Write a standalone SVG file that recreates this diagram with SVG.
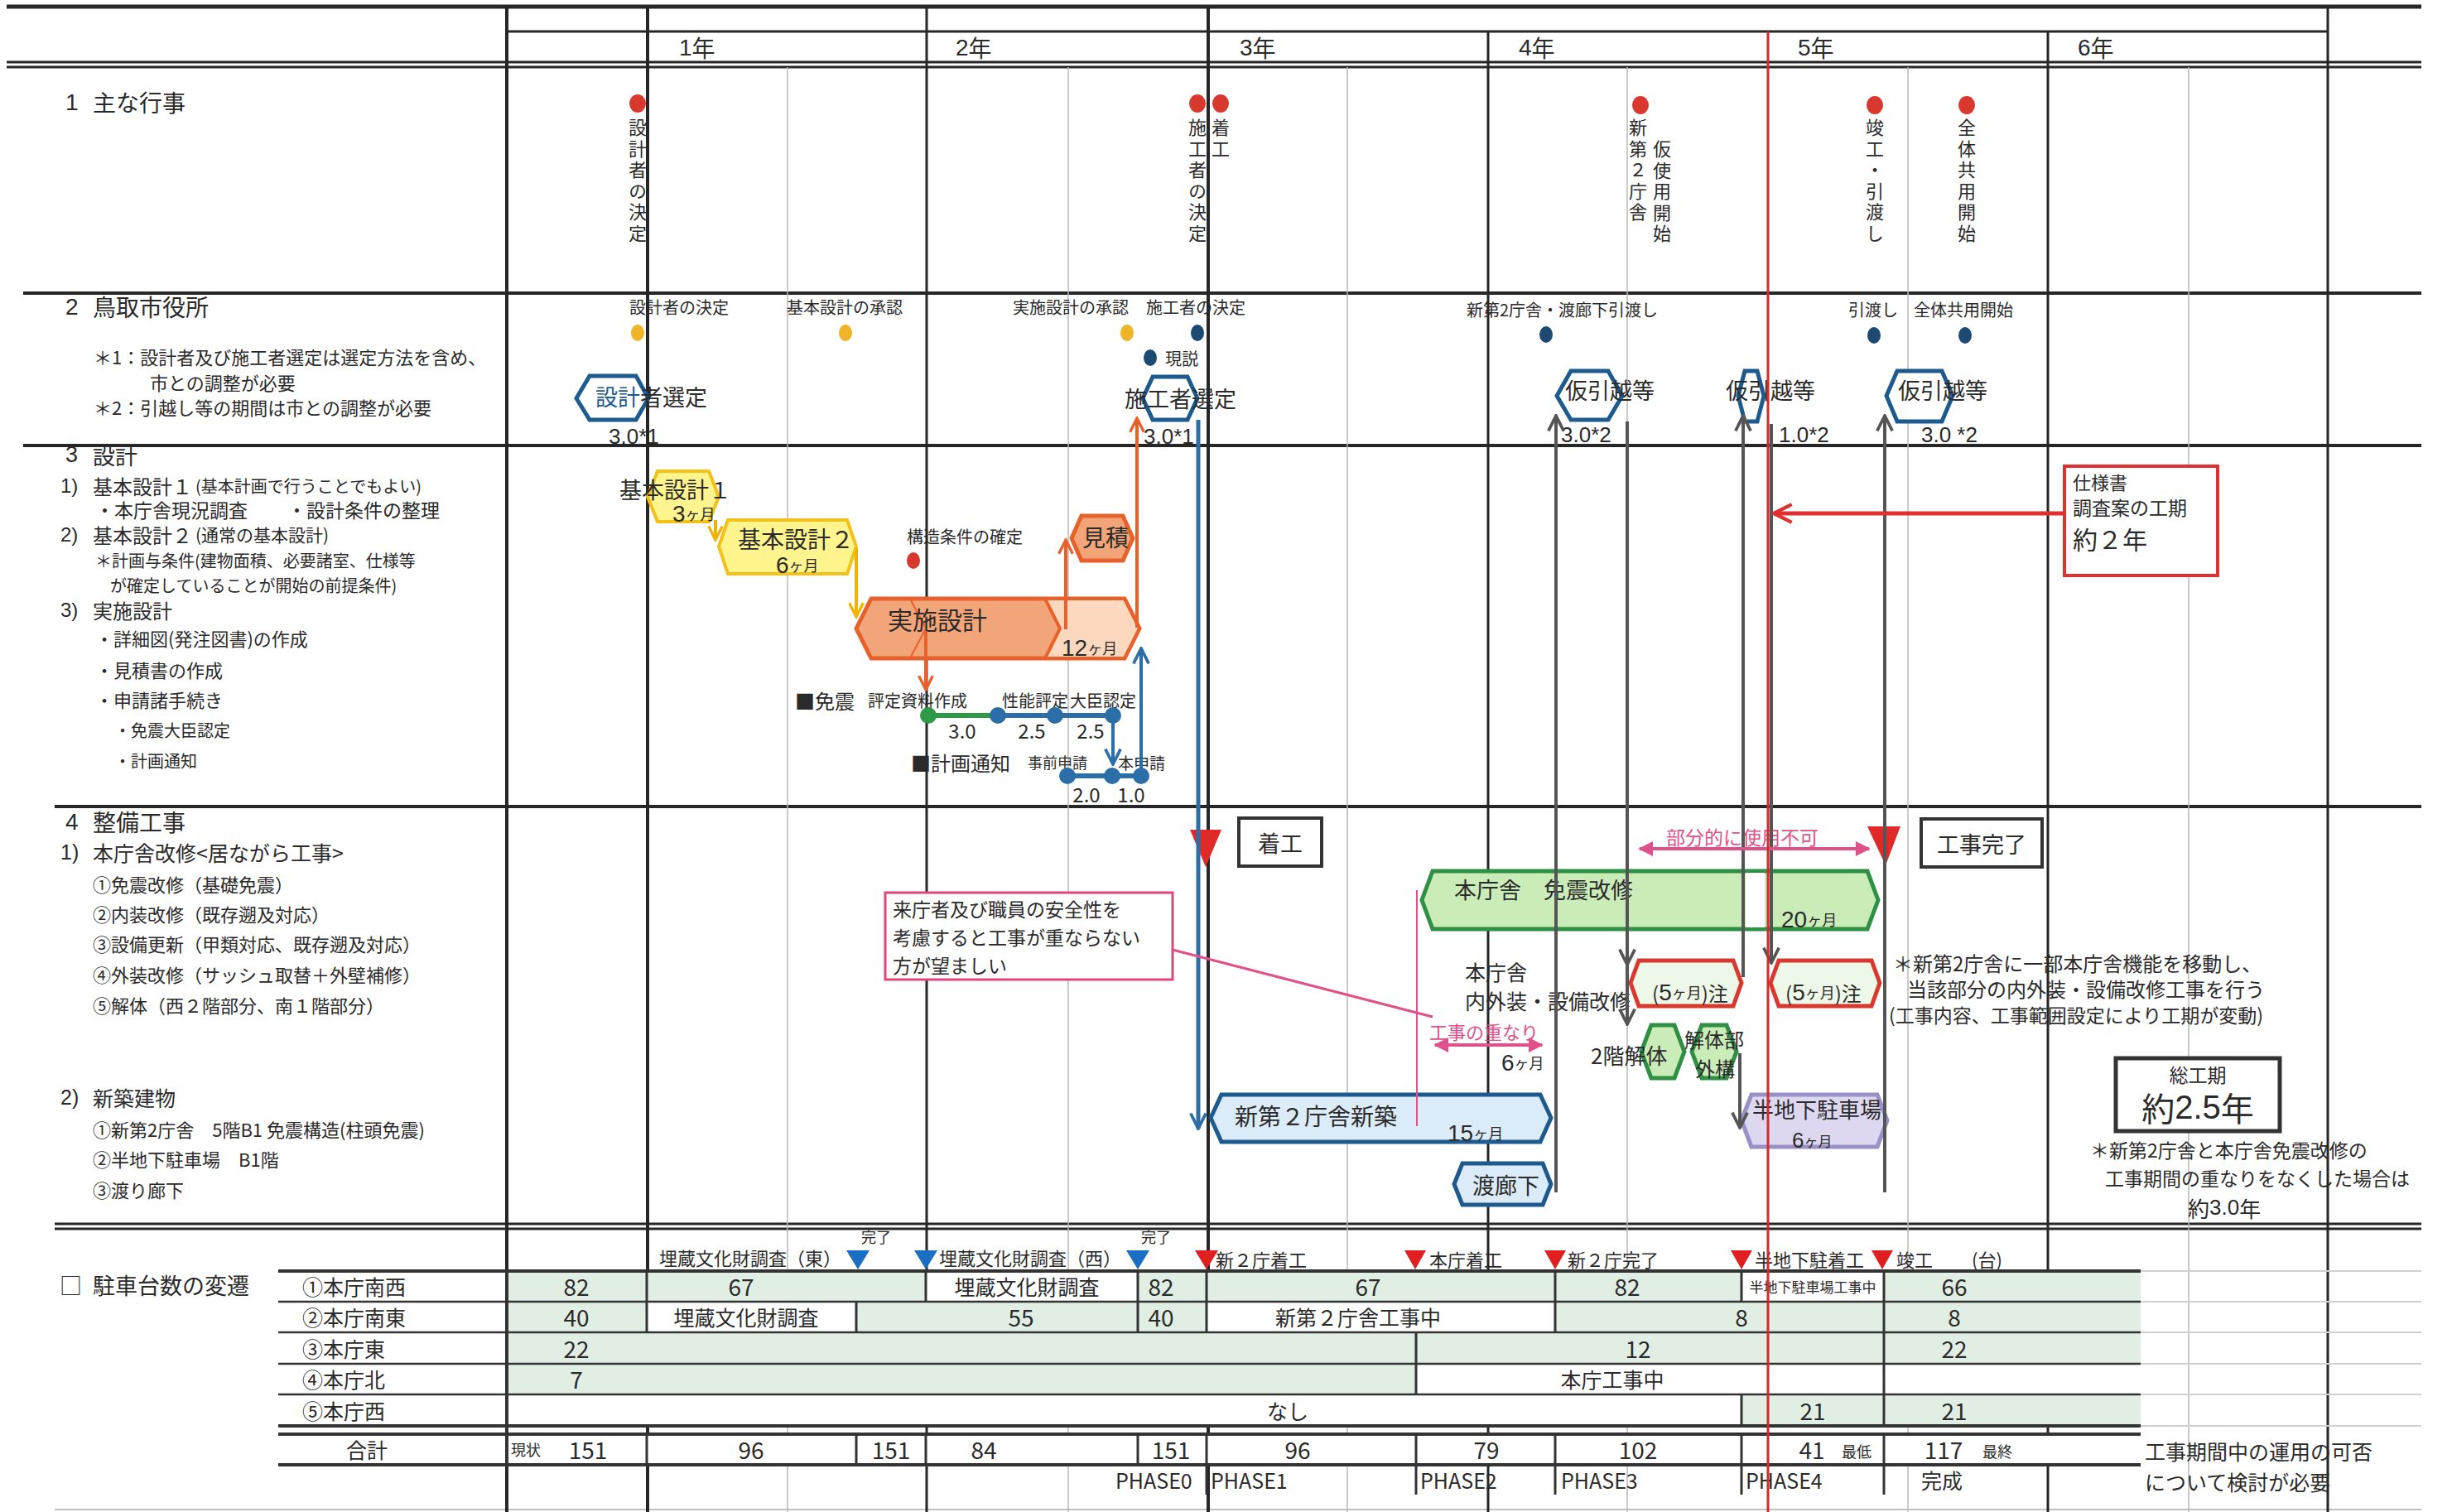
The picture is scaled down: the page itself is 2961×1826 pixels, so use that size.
<svg xmlns="http://www.w3.org/2000/svg" width="2961" height="1826" viewBox="0 0 2961 1826">
<style>
text{font-family:"Noto Sans CJK JP","Noto Sans",sans-serif;fill:#2a2a2a;dominant-baseline:central}
.n{font-family:"Liberation Sans",Arial,sans-serif}
.v{writing-mode:vertical-rl;letter-spacing:3.5px;font-size:22px}
.ln{stroke:#262626;fill:none}
.thin{stroke:#b8b8b8;stroke-width:1.5;fill:none}
.hb{fill:#fff;stroke:#1d5a8e;stroke-width:5}
.hbl{fill:#dcebf8;stroke:#1d5a8e;stroke-width:5}
.hy{fill:#fff48e;stroke:#f3c21a;stroke-width:4}
.ho{fill:#f3a57a;stroke:#e8602a;stroke-width:5}
.hg{fill:#caecb9;stroke:#2f8f45;stroke-width:5}
.hr{fill:#eef8e8;stroke:#d9382e;stroke-width:5}
.hp{fill:#ddd8f0;stroke:#9a90c8;stroke-width:5}
.box{fill:#fff;stroke:#333;stroke-width:4}
.rd{fill:#d9382e}
.yd{fill:#f0b428}
.bd{fill:#1d4a72}
.gc{fill:#e1eee4}
.wc{fill:#fff}
.tl{stroke:#333;stroke-width:3}
.cg{stroke:#555;stroke-width:4;fill:none}
</style>
<defs>
<marker id="ao" viewBox="0 0 12 12" refX="11" refY="6" markerWidth="20" markerHeight="20" markerUnits="userSpaceOnUse" orient="auto"><path d="M1,1 L11,6 L1,11" fill="none" stroke="#e8602a" stroke-width="2"/></marker>
<marker id="ay" viewBox="0 0 12 12" refX="11" refY="6" markerWidth="20" markerHeight="20" markerUnits="userSpaceOnUse" orient="auto"><path d="M1,1 L11,6 L1,11" fill="none" stroke="#f0b400" stroke-width="2"/></marker>
<marker id="ab" viewBox="0 0 12 12" refX="11" refY="6" markerWidth="22" markerHeight="22" markerUnits="userSpaceOnUse" orient="auto"><path d="M1,1 L11,6 L1,11" fill="none" stroke="#2b6ea8" stroke-width="2"/></marker>
<marker id="ag" viewBox="0 0 12 12" refX="11" refY="6" markerWidth="22" markerHeight="22" markerUnits="userSpaceOnUse" orient="auto"><path d="M1,1 L11,6 L1,11" fill="none" stroke="#555" stroke-width="2"/></marker>
<marker id="ar" viewBox="0 0 12 12" refX="11" refY="6" markerWidth="26" markerHeight="26" markerUnits="userSpaceOnUse" orient="auto"><path d="M1,1 L11,6 L1,11" fill="none" stroke="#e03030" stroke-width="2"/></marker>
<marker id="ap" viewBox="0 0 10 10" refX="9" refY="5" markerWidth="18" markerHeight="18" markerUnits="userSpaceOnUse" orient="auto-start-reverse"><path d="M0,0 L10,5 L0,10 z" fill="#e0508a"/></marker>
</defs>
<rect width="2961" height="1826" fill="#fff"/>

<g id="grid">
 <line class="ln" x1="8" y1="8" x2="2924" y2="8" stroke-width="5"/>
 <line class="ln" x1="612" y1="38" x2="2811" y2="38" stroke-width="3"/>
 <line class="ln" x1="8" y1="75" x2="2924" y2="75" stroke-width="3"/>
 <line class="ln" x1="8" y1="81" x2="2924" y2="81" stroke-width="3"/>
 <line class="ln" x1="28" y1="354" x2="2924" y2="354" stroke-width="4"/>
 <line class="ln" x1="28" y1="538" x2="2924" y2="538" stroke-width="4"/>
 <line class="ln" x1="66" y1="974" x2="2924" y2="974" stroke-width="4"/>
 <line class="ln" x1="66" y1="1478" x2="2924" y2="1478" stroke-width="3"/>
 <line class="ln" x1="66" y1="1484" x2="2924" y2="1484" stroke-width="3"/>
 <line x1="66" y1="1823" x2="2924" y2="1823" stroke="#aaa" stroke-width="1.5"/>
 <line class="thin" x1="951" y1="81" x2="951" y2="1826"/>
 <line class="thin" x1="1290" y1="81" x2="1290" y2="1826"/>
 <line class="thin" x1="1627" y1="81" x2="1627" y2="1826"/>
 <line class="thin" x1="1965" y1="81" x2="1965" y2="1826"/>
 <line class="thin" x1="2304" y1="81" x2="2304" y2="1826"/>
 <line class="thin" x1="2643" y1="81" x2="2643" y2="1826"/>
 <line class="ln" x1="612" y1="8" x2="612" y2="1826" stroke-width="4"/>
 <line class="ln" x1="782" y1="8" x2="782" y2="1826" stroke-width="4"/>
 <line class="ln" x1="1119" y1="8" x2="1119" y2="1826" stroke-width="3"/>
 <line class="ln" x1="1459" y1="8" x2="1459" y2="1826" stroke-width="4"/>
 <line class="ln" x1="1797" y1="38" x2="1797" y2="1826" stroke-width="3"/>
 <line class="ln" x1="2473" y1="38" x2="2473" y2="1826" stroke-width="3"/>
 <line class="ln" x1="2811" y1="8" x2="2811" y2="1826" stroke-width="3"/>
 <g font-size="28">
  <text x="820" y="57"><tspan class="n">1</tspan>年</text>
  <text x="1154" y="57"><tspan class="n">2</tspan>年</text>
  <text x="1497" y="57"><tspan class="n">3</tspan>年</text>
  <text x="1834" y="57"><tspan class="n">4</tspan>年</text>
  <text x="2171" y="57"><tspan class="n">5</tspan>年</text>
  <text x="2509" y="57"><tspan class="n">6</tspan>年</text>
 </g>
</g>

<g id="left-labels">
 <text font-size="28"><tspan x="79" y="123" class="n">1</tspan><tspan x="112" y="123">主な行事</tspan></text>
 <text font-size="22"><tspan x="79" y="370" class="n" font-size="28">2</tspan><tspan x="112" y="370" font-size="28">鳥取市役所</tspan><tspan x="113" y="430">＊1：設計者及び施工者選定は選定方法を含め、</tspan><tspan x="181" y="461">市との調整が必要</tspan><tspan x="113" y="491">＊2：引越し等の期間は市との調整が必要</tspan></text>
 <text font-size="24"><tspan x="79" y="549" class="n" font-size="27">3</tspan><tspan x="112" y="549" font-size="27">設計</tspan><tspan x="73" y="586" class="n">1)</tspan><tspan x="112" y="586">基本設計１</tspan><tspan font-size="20" dx="4">(基本計画で行うことでもよい)</tspan><tspan x="115" y="615" font-size="23">・本庁舎現況調査</tspan><tspan x="347" y="615" font-size="23">・設計条件の整理</tspan><tspan x="73" y="645" class="n">2)</tspan><tspan x="112" y="645">基本設計２</tspan><tspan font-size="21" dx="4">(通常の基本設計)</tspan><tspan x="115" y="676" font-size="20">＊計画与条件(建物面積、必要諸室、仕様等</tspan><tspan x="133" y="706" font-size="20">が確定していることが開始の前提条件)</tspan><tspan x="73" y="736" class="n">3)</tspan><tspan x="112" y="736">実施設計</tspan><tspan x="115" y="770" font-size="22">・詳細図(発注図書)の作成</tspan><tspan x="115" y="808" font-size="22">・見積書の作成</tspan><tspan x="115" y="844" font-size="22">・申請諸手続き</tspan><tspan x="138" y="881" font-size="20">・免震大臣認定</tspan><tspan x="138" y="918" font-size="20">・計画通知</tspan></text>
 <text font-size="22"><tspan x="79" y="992" class="n" font-size="28">4</tspan><tspan x="112" y="992" font-size="28">整備工事</tspan><tspan x="73" y="1029" class="n" font-size="25">1)</tspan><tspan x="112" y="1029" font-size="25">本庁舎改修&lt;居ながら工事&gt;</tspan><tspan x="112" y="1067">①免震改修（基礎免震）</tspan><tspan x="112" y="1103">②内装改修（既存遡及対応）</tspan><tspan x="112" y="1139">③設備更新（甲類対応、既存遡及対応）</tspan><tspan x="112" y="1176">④外装改修（サッシュ取替＋外壁補修）</tspan><tspan x="112" y="1213">⑤解体（西２階部分、南１階部分）</tspan><tspan x="73" y="1325" class="n" font-size="25">2)</tspan><tspan x="112" y="1325" font-size="25">新築建物</tspan><tspan x="112" y="1363">①新第2庁舎　5階B1 免震構造(柱頭免震)</tspan><tspan x="112" y="1399">②半地下駐車場　B1階</tspan><tspan x="112" y="1436">③渡り廊下</tspan></text>
</g>

<g id="events">
 <ellipse class="rd" cx="770" cy="125" rx="10" ry="11"/>
 <ellipse class="rd" cx="1446" cy="125" rx="10" ry="11"/>
 <ellipse class="rd" cx="1474" cy="125" rx="10" ry="11"/>
 <ellipse class="rd" cx="1981" cy="127" rx="10" ry="11"/>
 <ellipse class="rd" cx="2264" cy="127" rx="10" ry="11"/>
 <ellipse class="rd" cx="2375" cy="127" rx="10" ry="11"/>
 <text class="v" x="770" y="143">設計者の決定</text>
 <text class="v" x="1446" y="143">施工者の決定</text>
 <text class="v" x="1474" y="143">着工</text>
 <text class="v" x="1978" y="143">新第２庁舎</text>
 <text class="v" x="2007" y="169">仮使用開始</text>
 <text class="v" x="2264" y="143">竣工・引渡し</text>
 <text class="v" x="2375" y="143">全体共用開始</text>
</g>

<g id="city">
 <g font-size="20">
  <text x="760" y="370">設計者の決定</text>
  <text x="950" y="370">基本設計の承認</text>
  <text x="1223" y="370">実施設計の承認</text>
  <text x="1384" y="370">施工者の決定</text>
  <text x="1771" y="373">新第2庁舎・渡廊下引渡し</text>
  <text x="2232" y="373">引渡し</text>
  <text x="2311" y="373">全体共用開始</text>
  <text x="1407" y="432">現説</text>
 </g>
 <ellipse class="yd" cx="770" cy="402" rx="8" ry="10"/>
 <ellipse class="yd" cx="1021" cy="402" rx="8" ry="10"/>
 <ellipse class="yd" cx="1361" cy="402" rx="8" ry="10"/>
 <ellipse class="bd" cx="1446" cy="402" rx="8" ry="10"/>
 <ellipse class="bd" cx="1389" cy="432" rx="8" ry="10"/>
 <ellipse class="bd" cx="1867" cy="404" rx="8" ry="10"/>
 <ellipse class="bd" cx="2263" cy="405" rx="8" ry="10"/>
 <ellipse class="bd" cx="2373" cy="405" rx="8" ry="10"/>
</g>

<g id="node-sekkeisha">
 <polygon class="hb" points="696,481 712,454 768,454 783,481 768,507 712,507"/>
 <text x="719" y="478" font-size="27"><tspan fill="#1d5a8e">設計</tspan>者選定</text>
 <text x="735" y="527" font-size="26" class="n">3.0*1</text>
</g>
<g id="node-sekousha">
 <polygon class="hb" points="1380,481 1392,455 1434,455 1446,481 1434,507 1392,507"/>
 <text x="1358" y="480" font-size="27">施工者選定</text>
 <text x="1381" y="527" font-size="26" class="n">3.0*1</text>
</g>
<g id="node-move1">
 <polygon class="hb" points="1880,478 1897,448 1942,448 1959,478 1942,507 1897,507"/>
 <text x="1890" y="470" font-size="27">仮引越等</text>
 <text x="1885" y="525" font-size="26" class="n">3.0*2</text>
</g>
<g id="node-move2">
 <polygon class="hb" points="2099,478 2107,448 2122,448 2130,478 2122,509 2107,509"/>
 <text x="2084" y="470" font-size="27">仮引越等</text>
 <text x="2148" y="525" font-size="26" class="n">1.0*2</text>
</g>
<g id="node-move3">
 <polygon class="hb" points="2278,478 2291,448 2345,448 2358,478 2345,509 2291,509"/>
 <text x="2292" y="470" font-size="27">仮引越等</text>
 <text x="2320" y="525" font-size="26" class="n">3.0 *2</text>
</g>

<g id="node-kihon1">
 <polygon class="hy" points="782,600 794,569 856,569 868,600 856,630 794,630"/>
 <text font-size="27"><tspan x="748" y="590">基本設計１</tspan><tspan x="812" y="620" class="n" font-size="28">3</tspan><tspan font-size="18">ヶ月</tspan></text>
</g>
<g id="node-kihon2">
 <polygon class="hy" points="868,660 879,628 1023,628 1034,660 1023,693 879,693"/>
 <text font-size="28"><tspan x="891" y="650">基本設計２</tspan><tspan x="937" y="682" class="n">6</tspan><tspan font-size="18">ヶ月</tspan></text>
</g>
<g id="node-mitsumori">
 <polygon class="ho" points="1294,650 1306,623 1356,623 1368,650 1356,677 1306,677"/>
 <text x="1307" y="648" font-size="28">見積</text>
</g>
<g id="node-jisshi">
 <polygon class="ho" points="1034,759 1052,723 1358,723 1376,759 1358,795 1052,795"/>
 <polygon points="1262,723 1358,723 1376,759 1358,795 1262,795 1280,759" fill="#fcd9be" stroke="#e8602a" stroke-width="4"/>
 <polyline points="1100,725 1118,759 1100,793" fill="none" stroke="#e8602a" stroke-width="2"/>
 <text x="1072" y="747" font-size="30">実施設計</text>
 <text x="1282" y="782"><tspan class="n" font-size="28">12</tspan><tspan font-size="18">ヶ月</tspan></text>
</g>
<g id="node-kouzou">
 <text x="1095" y="647" font-size="20">構造条件の確定</text>
 <ellipse class="rd" cx="1103" cy="677" rx="8" ry="10"/>
</g>
<g id="node-menshin">
 <text x="960" y="845" font-size="24">■免震</text>
 <text x="1048" y="845" font-size="20" fill="#444">評定資料作成</text>
 <text x="1210" y="845" font-size="20">性能評定</text>
 <text x="1292" y="845" font-size="20">大臣認定</text>
 <g class="n" font-size="24" text-anchor="middle">
  <text x="1162" y="881">3.0</text><text x="1246" y="881">2.5</text><text x="1317" y="881">2.5</text>
 </g>
</g>
<g id="node-keikaku">
 <text x="1100" y="920" font-size="24">■計画通知</text>
 <text x="1241" y="920" font-size="18">事前申請</text>
 <text x="1350" y="920" font-size="19">本申請</text>
 <g class="n" font-size="24" text-anchor="middle">
  <text x="1312" y="958">2.0</text><text x="1366" y="958">1.0</text>
 </g>
</g>
<g id="node-shiyousho">
 <rect x="2493" y="563" width="185" height="132" fill="#fff" stroke="#e03030" stroke-width="4"/>
 <text font-size="23"><tspan x="2503" y="581" font-size="22">仕様書</tspan><tspan x="2503" y="612">調査案の工期</tspan><tspan x="2503" y="650" font-size="30">約２年</tspan></text>
</g>

<g id="node-chakkou">
 <polygon points="1437,1002 1475,1002 1456,1047" fill="#e02a2a"/>
 <rect class="box" x="1496" y="988" width="100" height="58"/>
 <text x="1546" y="1017" font-size="27" text-anchor="middle">着工</text>
</g>
<g id="node-callout">
 <rect x="1069" y="1078" width="347" height="105" fill="#fff" stroke="#e0457b" stroke-width="3"/>
 <text font-size="23"><tspan x="1078" y="1097">来庁者及び職員の安全性を</tspan><tspan x="1078" y="1131">考慮すると工事が重ならない</tspan><tspan x="1078" y="1165">方が望ましい</tspan></text>
</g>
<g id="node-honchousha">
 <polygon class="hg" points="1717,1087 1730,1052 2255,1052 2268,1087 2255,1122 1730,1122"/>
 <rect x="2108" y="1054" width="23" height="66" fill="#fff"/>
 <text x="1756" y="1073" font-size="27">本庁舎　免震改修</text>
 <text x="2151" y="1110"><tspan class="n" font-size="28">20</tspan><tspan font-size="18">ヶ月</tspan></text>
</g>
<g id="node-naigaisou">
 <text font-size="25"><tspan x="1769" y="1173">本庁舎</tspan><tspan x="1769" y="1208">内外装・設備改修</tspan></text>
</g>
<g id="node-5m-1">
 <polygon class="hr" points="1969,1187 1979,1160 2093,1160 2103,1187 2093,1215 1979,1215"/>
 <text x="1995" y="1198" font-size="24">(<tspan class="n" font-size="28">5</tspan><tspan font-size="18">ヶ月</tspan>)注</text>
</g>
<g id="node-5m-2">
 <polygon class="hr" points="2138,1187 2148,1160 2260,1160 2270,1187 2260,1215 2148,1215"/>
 <text x="2156" y="1198" font-size="24">(<tspan class="n" font-size="28">5</tspan><tspan font-size="18">ヶ月</tspan>)注</text>
</g>
<g id="node-2kai">
 <polygon class="hg" points="1982,1270 1994,1238 2022,1238 2034,1270 2022,1302 1994,1302"/>
 <text x="1921" y="1273" font-size="26">2階解体</text>
</g>
<g id="node-gaikou">
 <polygon class="hg" points="2043,1270 2055,1238 2085,1238 2097,1270 2085,1302 2055,1302"/>
 <text font-size="24"><tspan x="2034" y="1254">解体部</tspan><tspan x="2047" y="1289">外構</tspan></text>
</g>
<g id="node-shinchiku">
 <polygon class="hbl" points="1462,1350 1475,1322 1860,1322 1873,1350 1860,1379 1475,1379"/>
 <text x="1491" y="1347" font-size="28">新第２庁舎新築</text>
 <text x="1748" y="1368"><tspan class="n" font-size="28">15</tspan><tspan font-size="18">ヶ月</tspan></text>
</g>
<g id="node-rouka">
 <polygon class="hbl" points="1756,1430 1766,1405 1863,1405 1873,1430 1863,1455 1766,1455"/>
 <text x="1778" y="1430" font-size="27">渡廊下</text>
</g>
<g id="node-parking">
 <polygon class="hp" points="2103,1353 2115,1322 2267,1322 2279,1353 2267,1385 2115,1385"/>
 <text font-size="26"><tspan x="2116" y="1338">半地下駐車場</tspan><tspan x="2164" y="1377" class="n">6</tspan><tspan font-size="17">ヶ月</tspan></text>
</g>
<g id="node-kanryou">
 <polygon points="2255,998 2295,998 2277,1045" fill="#e02a2a"/>
 <rect class="box" x="2320" y="989" width="146" height="58"/>
 <text x="2393" y="1018" font-size="27" text-anchor="middle">工事完了</text>
</g>
<g id="node-note">
 <text font-size="24"><tspan x="2286" y="1162">＊新第2庁舎に一部本庁舎機能を移動し、</tspan><tspan x="2303" y="1193">当該部分の内外装・設備改修工事を行う</tspan><tspan x="2281" y="1225" font-size="23">(工事内容、工事範囲設定により工期が変動)</tspan></text>
</g>
<g id="node-soukouki">
 <rect x="2555" y="1278" width="198" height="88" fill="#fff" stroke="#333" stroke-width="5"/>
 <text font-size="23" text-anchor="middle"><tspan x="2654" y="1297">総工期</tspan><tspan x="2654" y="1337" font-size="40">約<tspan class="n">2.5</tspan>年</tspan></text>
 <text font-size="23"><tspan x="2524" y="1388">＊新第2庁舎と本庁舎免震改修の</tspan><tspan x="2542" y="1422">工事期間の重なりをなくした場合は</tspan><tspan x="2642" y="1458" font-size="26">約<tspan class="n">3.0</tspan>年</tspan></text>
</g>
<g id="node-overlap">
 <text x="2012" y="1010" font-size="23" style="fill:#e0508a">部分的に使用不可</text>
 <text x="1726" y="1245" font-size="22" style="fill:#e0508a">工事の重なり</text>
 <text x="1813" y="1283"><tspan class="n" font-size="28">6</tspan><tspan font-size="18">ヶ月</tspan></text>
</g>

<g id="connectors">
 <path d="M864,628 L864,652" stroke="#f0b400" stroke-width="4" fill="none" marker-end="url(#ay)"/>
 <path d="M1034,662 L1034,745" stroke="#f0b400" stroke-width="4" fill="none" marker-end="url(#ay)"/>
 <path d="M1287,760 L1287,652" stroke="#e8602a" stroke-width="4" fill="none" marker-end="url(#ao)"/>
 <path d="M1373,758 L1373,505" stroke="#e8602a" stroke-width="4" fill="none" marker-end="url(#ao)"/>
 <path d="M1118,762 L1118,833" stroke="#e8602a" stroke-width="4" fill="none" marker-end="url(#ao)"/>
 <path d="M1121,864 L1205,864" stroke="#2e9a48" stroke-width="6" fill="none"/>
 <path d="M1205,864 L1344,864" stroke="#2b6ea8" stroke-width="6" fill="none"/>
 <path d="M1344,864 L1344,923" stroke="#2b6ea8" stroke-width="4" fill="none" marker-end="url(#ab)"/>
 <path d="M1289,937 L1378,937" stroke="#2b6ea8" stroke-width="6" fill="none"/>
 <path d="M1378,937 L1378,783" stroke="#2b6ea8" stroke-width="4" fill="none" marker-end="url(#ab)"/>
 <circle cx="1121" cy="864" r="10" fill="#2e9a48"/>
 <circle cx="1205" cy="864" r="10" fill="#2b6ea8"/>
 <circle cx="1274" cy="864" r="10" fill="#2b6ea8"/>
 <circle cx="1344" cy="864" r="10" fill="#2b6ea8"/>
 <circle cx="1289" cy="937" r="10" fill="#2b6ea8"/>
 <circle cx="1343" cy="937" r="10" fill="#2b6ea8"/>
 <circle cx="1378" cy="937" r="10" fill="#2b6ea8"/>
 <path d="M1447,507 L1447,1363" stroke="#2b6ea8" stroke-width="5" fill="none" marker-end="url(#ab)"/>
 <path class="cg" d="M1879,1440 L1879,502" marker-end="url(#ag)"/>
 <path class="cg" d="M1965,509 L1965,1165" marker-end="url(#ag)"/>
 <path class="cg" d="M1965,1165 L1965,1237" marker-end="url(#ag)"/>
 <path class="cg" d="M2105,1180 L2105,502" marker-end="url(#ag)"/>
 <path class="cg" d="M2101,1272 L2101,1362" marker-end="url(#ag)"/>
 <path class="cg" d="M2139,512 L2139,1163" marker-end="url(#ag)"/>
 <path class="cg" d="M2276,1440 L2276,502" marker-end="url(#ag)"/>
 <path d="M2493,620 L2142,620" stroke="#e03030" stroke-width="5" fill="none" marker-end="url(#ar)"/>
 <path d="M1980,1025 L2257,1025" stroke="#e0508a" stroke-width="4" fill="none" marker-start="url(#ap)" marker-end="url(#ap)"/>
 <path d="M1733,1262 L1862,1262" stroke="#e0508a" stroke-width="4" fill="none" marker-start="url(#ap)" marker-end="url(#ap)"/>
 <path d="M1416,1147 L1730,1228" stroke="#e0508a" stroke-width="3" fill="none"/>
 <path d="M1711,1075 L1711,1360" stroke="#e0508a" stroke-width="2" fill="none"/>
</g>

<g id="parking-table">
 <rect class="wc" x="336" y="1535" width="276" height="187"/>
 <rect class="gc" x="612" y="1535" width="506" height="37"/>
 <rect class="wc" x="1118" y="1535" width="256" height="37"/>
 <rect class="gc" x="1374" y="1535" width="729" height="37"/>
 <rect class="wc" x="2103" y="1535" width="172" height="37"/>
 <rect class="gc" x="2275" y="1535" width="310" height="37"/>
 <rect class="gc" x="612" y="1572" width="169" height="37"/>
 <rect class="wc" x="781" y="1572" width="253" height="37"/>
 <rect class="gc" x="1034" y="1572" width="423" height="37"/>
 <rect class="wc" x="1457" y="1572" width="421" height="37"/>
 <rect class="gc" x="1878" y="1572" width="707" height="37"/>
 <rect class="gc" x="612" y="1609" width="1973" height="38"/>
 <rect class="gc" x="612" y="1647" width="1098" height="37"/>
 <rect class="wc" x="1710" y="1647" width="875" height="37"/>
 <rect class="wc" x="612" y="1684" width="1491" height="38"/>
 <rect class="gc" x="2103" y="1684" width="482" height="38"/>
 <rect class="wc" x="336" y="1732" width="2249" height="37"/>
 <g stroke="#d0d0d0" stroke-width="2">
  <line x1="2585" y1="1535" x2="2924" y2="1535"/><line x1="2585" y1="1572" x2="2924" y2="1572"/>
  <line x1="2585" y1="1609" x2="2924" y2="1609"/><line x1="2585" y1="1647" x2="2924" y2="1647"/>
  <line x1="2585" y1="1684" x2="2924" y2="1684"/><line x1="2585" y1="1722" x2="2924" y2="1722"/>
 </g>
 <g stroke="#333">
  <line x1="336" y1="1535" x2="2585" y2="1535" stroke-width="4"/>
  <line x1="336" y1="1572" x2="2585" y2="1572" stroke-width="2.5"/>
  <line x1="336" y1="1609" x2="2585" y2="1609" stroke-width="2.5"/>
  <line x1="336" y1="1647" x2="2585" y2="1647" stroke-width="2.5"/>
  <line x1="336" y1="1684" x2="2585" y2="1684" stroke-width="2.5"/>
  <line x1="336" y1="1722" x2="2585" y2="1722" stroke-width="4"/>
  <line x1="336" y1="1732" x2="2585" y2="1732" stroke-width="4"/>
  <line x1="336" y1="1769" x2="2585" y2="1769" stroke-width="4"/>
  <line x1="612" y1="1535" x2="612" y2="1769" stroke-width="4"/>
 </g>
 <g class="tl">
  <line x1="781" y1="1535" x2="781" y2="1609"/><line x1="1118" y1="1535" x2="1118" y2="1572"/>
  <line x1="1374" y1="1535" x2="1374" y2="1609"/><line x1="1457" y1="1535" x2="1457" y2="1609"/>
  <line x1="1878" y1="1535" x2="1878" y2="1609"/><line x1="2103" y1="1535" x2="2103" y2="1572"/>
  <line x1="2275" y1="1535" x2="2275" y2="1722"/><line x1="1034" y1="1572" x2="1034" y2="1609"/>
  <line x1="1710" y1="1609" x2="1710" y2="1684"/><line x1="2103" y1="1684" x2="2103" y2="1722"/>
  <line x1="781" y1="1732" x2="781" y2="1769"/><line x1="1034" y1="1732" x2="1034" y2="1769"/>
  <line x1="1118" y1="1732" x2="1118" y2="1769"/><line x1="1374" y1="1732" x2="1374" y2="1769"/>
  <line x1="1457" y1="1732" x2="1457" y2="1805"/><line x1="1710" y1="1732" x2="1710" y2="1805"/>
  <line x1="1878" y1="1732" x2="1878" y2="1805"/><line x1="2103" y1="1732" x2="2103" y2="1805"/>
  <line x1="2275" y1="1732" x2="2275" y2="1805"/>
 </g>
 <text x="72" y="1551" font-size="27">□</text>
 <text x="112" y="1551" font-size="27">駐車台数の変遷</text>
 <g font-size="25">
  <text x="365" y="1553">①本庁南西</text>
  <text x="365" y="1590">②本庁南東</text>
  <text x="365" y="1628">③本庁東</text>
  <text x="365" y="1665">④本庁北</text>
  <text x="365" y="1703">⑤本庁西</text>
  <text x="443" y="1750" text-anchor="middle">合計</text>
 </g>
 <g class="n" font-size="28" text-anchor="middle">
  <text x="696" y="1553">82</text><text x="895" y="1553">67</text><text x="1402" y="1553">82</text><text x="1652" y="1553">67</text><text x="1965" y="1553">82</text><text x="2360" y="1553">66</text>
  <text x="696" y="1590">40</text><text x="1233" y="1590">55</text><text x="1402" y="1590">40</text><text x="2103" y="1590">8</text><text x="2360" y="1590">8</text>
  <text x="696" y="1628">22</text><text x="1978" y="1628">12</text><text x="2360" y="1628">22</text>
  <text x="696" y="1665">7</text>
  <text x="2189" y="1703">21</text><text x="2360" y="1703">21</text>
  <text x="710" y="1750">151</text><text x="907" y="1750">96</text><text x="1076" y="1750">151</text><text x="1188" y="1750">84</text><text x="1414" y="1750">151</text><text x="1567" y="1750">96</text><text x="1795" y="1750">79</text><text x="1978" y="1750">102</text><text x="2188" y="1750">41</text><text x="2347" y="1750">117</text>
 </g>
 <g font-size="25" text-anchor="middle">
  <text x="1240" y="1553">埋蔵文化財調査</text>
  <text x="2189" y="1553" font-size="17">半地下駐車場工事中</text>
  <text x="901" y="1590">埋蔵文化財調査</text>
  <text x="1640" y="1590">新第２庁舎工事中</text>
  <text x="1947" y="1665">本庁工事中</text>
  <text x="1555" y="1703">なし</text>
 </g>
 <text x="617" y="1750" font-size="18">現状</text>
 <text x="2242" y="1752" font-size="18" text-anchor="middle">最低</text>
 <text x="2412" y="1752" font-size="18" text-anchor="middle">最終</text>
 <g class="n" font-size="25">
  <text x="1347" y="1787">PHASE0</text><text x="1462" y="1787">PHASE1</text><text x="1715" y="1787">PHASE2</text><text x="1885" y="1787">PHASE3</text><text x="2108" y="1787">PHASE4</text>
 </g>
 <text x="2320" y="1787" font-size="25">完成</text>
 <text font-size="25"><tspan x="2590" y="1752">工事期間中の運用の可否</tspan><tspan x="2590" y="1789">について検討が必要</tspan></text>
</g>

<g id="milestones">
 <g font-size="22">
  <text x="796" y="1518">埋蔵文化財調査（東）</text>
  <text x="1134" y="1518">埋蔵文化財調査（西）</text>
  <text x="1468" y="1520">新２庁着工</text>
  <text x="1726" y="1520">本庁着工</text>
  <text x="1893" y="1520">新２庁完了</text>
  <text x="2119" y="1520">半地下駐着工</text>
  <text x="2290" y="1520">竣工</text>
  <text x="2381" y="1520">(台)</text>
  <text x="1058" y="1493" font-size="18" text-anchor="middle">完了</text>
  <text x="1396" y="1493" font-size="18" text-anchor="middle">完了</text>
 </g>
 <g fill="#1a6fc4">
  <polygon points="1022,1510 1050,1510 1036,1533"/>
  <polygon points="1104,1510 1132,1510 1118,1533"/>
  <polygon points="1360,1510 1388,1510 1374,1533"/>
 </g>
 <g fill="#e02020">
  <polygon points="1443,1510 1471,1510 1457,1533"/>
  <polygon points="1696,1510 1722,1510 1709,1533"/>
  <polygon points="1865,1510 1891,1510 1878,1533"/>
  <polygon points="2090,1510 2116,1510 2103,1533"/>
  <polygon points="2260,1510 2286,1510 2273,1533"/>
 </g>
</g>

<g id="red-line">
 <line x1="2135" y1="38" x2="2135" y2="1826" stroke="#d42a2a" stroke-width="3"/>
</g>
</svg>
